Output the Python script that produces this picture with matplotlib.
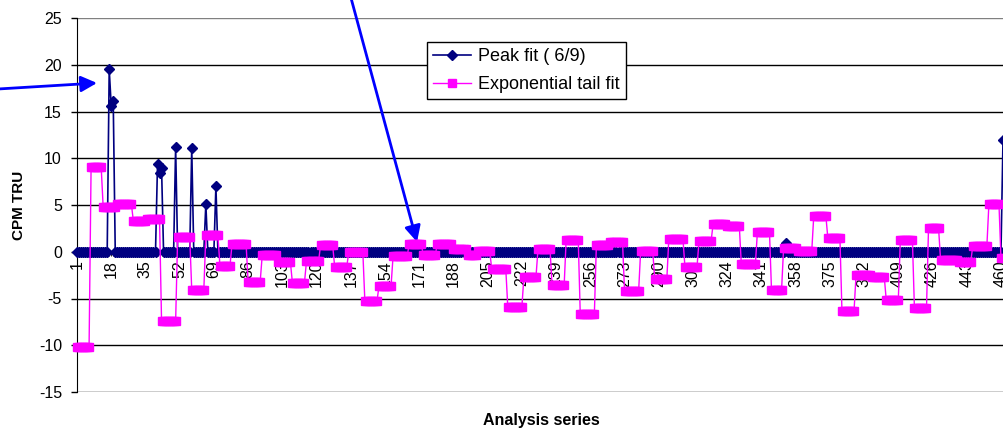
import numpy as np
import matplotlib
matplotlib.use('Agg')
import matplotlib.pyplot as plt

plt.rcParams['font.family'] = ['Liberation Sans', 'DejaVu Sans']

# number of analysis points visible in the chart
n_points = 461

# Peak fit: zero everywhere except these spikes (index -> CPM TRU)
peak_idx = [17, 18, 19, 41, 42, 43, 50, 58, 65, 70, 353, 461]
peak_val = [19.5, 15.6, 16.1, 9.4, 8.4, 9.0, 11.2, 11.1, 5.1, 7.0, 0.9, 11.9]

# Exponential tail fit: piecewise-constant levels (first index of each step, level)
tail_start = [1, 8, 14, 21, 29, 36, 43, 51, 58, 65, 72, 78, 86, 93, 101, 108,
              115, 122, 129, 136, 144, 151, 158, 166, 173, 180, 188, 195, 200,
              207, 215, 223, 230, 237, 244, 251, 259, 266, 273, 281, 288, 295,
              303, 310, 317, 324, 331, 339, 346, 352, 359, 367, 374, 381, 388,
              396, 403, 410, 417, 424, 430, 439, 446, 454, 460]
tail_level = [-10.2, 9.1, 4.8, 5.1, 3.3, 3.5, -7.4, 1.6, -4.1, 1.8, -1.5, 0.8,
              -3.2, -0.4, -1.1, -3.3, -1.0, 0.7, -1.6, -0.05, -5.3, -3.7, -0.5,
              0.8, -0.3, 0.8, 0.3, -0.3, 0.1, -1.8, -5.9, -2.7, 0.25, -3.6, 1.3,
              -6.7, 0.7, 1.0, -4.2, 0.1, -2.95, 1.4, -1.6, 1.15, 2.95, 2.8, -1.3,
              2.1, -4.1, 0.35, 0.05, 3.85, 1.45, -6.35, -2.5, -2.65, -5.15, 1.25,
              -6.05, 2.5, -0.9, -1.05, 0.65, 5.1, -0.7]

x = np.arange(1, n_points + 1)

peak = np.zeros(n_points)
for i, v in zip(peak_idx, peak_val):
    peak[i - 1] = v

tail = np.zeros(n_points)
bounds = tail_start + [n_points + 1]
for k, level in enumerate(tail_level):
    tail[bounds[k] - 1:bounds[k + 1] - 1] = level

fig = plt.figure(figsize=(10.04, 4.29), dpi=100)
ax = fig.add_axes([77 / 1004, 37 / 429, 927 / 1004, 374 / 429])

# horizontal gridlines (top one grey, like the plot-area border)
yticks = np.arange(-15, 26, 5)
for yv in yticks:
    ax.axhline(yv, color='#808080' if yv == 25 else 'black', lw=1, zorder=1)

ax.plot(x, peak, color='#000080', lw=1.2, marker='D', markersize=5.5,
        markerfacecolor='#000080', markeredgecolor='#000080',
        label='Peak fit ( 6/9)', zorder=3, clip_on=False)
ax.plot(x, tail, color='#FF00FF', lw=1, marker='s', markersize=6,
        markerfacecolor='#FF00FF', markeredgecolor='#FF00FF',
        label='Exponential tail fit', zorder=4, clip_on=False)

ax.set_xlim(1, 461.5)
ax.set_ylim(-15, 25)

for side in ['top', 'right']:
    ax.spines[side].set_visible(False)
ax.spines['bottom'].set_position(('data', 0))
ax.spines['bottom'].set_zorder(2)
ax.spines['left'].set_color('black')

xt = np.arange(1, n_points + 1, 17)
ax.set_xticks(xt)
ax.set_xticklabels([str(v) for v in xt], rotation=90, va='top', ha='center', fontsize=11.5)
ax.set_xticks(x, minor=True)
ax.tick_params(axis='x', which='both', direction='out', length=3, width=0.6, pad=3)

ax.set_yticks(yticks)
ax.set_yticklabels([str(v) for v in yticks], fontsize=11.5)
ax.tick_params(axis='y', direction='out', length=4.3, width=1, pad=6.5)

ax.set_ylabel('CPM TRU', fontsize=11, fontweight='bold', labelpad=9)
fig.text(541 / 1004, 1 - 420 / 429, 'Analysis series', fontsize=11.5, fontweight='bold',
         ha='center', va='center')

leg = ax.legend(loc='upper left', bbox_to_anchor=(427 / 1004, 1 - 42 / 429),
                bbox_transform=fig.transFigure, fontsize=13, frameon=True,
                fancybox=False, edgecolor='black', framealpha=1,
                handlelength=2.1, borderpad=0.35, labelspacing=0.6,
                handletextpad=0.35, borderaxespad=0)
leg.get_frame().set_linewidth(1)
leg.set_zorder(10)

# blue callout arrows
arrow = dict(arrowstyle='-|>', color='#0000FF', lw=2, mutation_scale=24, shrinkA=0, shrinkB=0)
ax.annotate('', xy=(97, 429 - 83), xytext=(-2, 429 - 89), xycoords='figure pixels',
            textcoords='figure pixels', arrowprops=arrow, annotation_clip=False)
ax.annotate('', xy=(417, 429 - 242), xytext=(351, 431), xycoords='figure pixels',
            textcoords='figure pixels', arrowprops=arrow, annotation_clip=False)

fig.savefig('out.png', dpi=100)
